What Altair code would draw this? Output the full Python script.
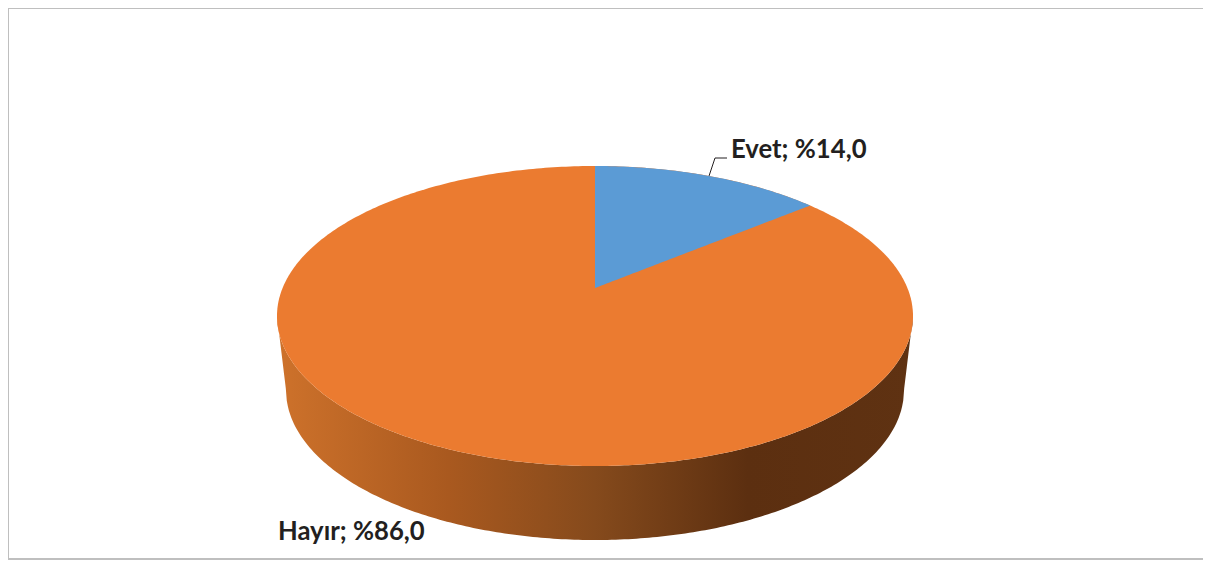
import math
import altair as alt
import pandas as pd

categories = ["Evet", "Hayır"]
shares = [14.0, 86.0]
labels = ["Evet; %14,0", "Hayır; %86,0"]

W, H = 1195, 552
CX, CY, RX, RY = 587, 308, 318, 150      # top ellipse
APEX_Y = 280
A, C, K = 312.4, 144.8, -0.1867          # perspective of the disc
CX2, CY2, RX2, RY2 = 587, 382, 309, 150  # bottom rim

xs = alt.X("x:Q", scale=alt.Scale(domain=[0, W], nice=False, zero=False), axis=None)
ys = alt.Y("y:Q", scale=alt.Scale(domain=[H, 0], nice=False, zero=False), axis=None)
y2s = alt.Y2("y2:Q")


def disc_point(theta):
    u, v = math.sin(theta), -math.cos(theta)
    d = 1 + K * v
    return CX + A * u / d, APEX_Y + C * v / d


# wall
STEPS = 240
wall = []
for i in range(STEPS + 1):
    x = CX - RX + 2 * RX * (1 - math.cos(math.pi * i / STEPS)) / 2
    top = CY + RY * math.sqrt(max(0, 1 - ((x - CX) / RX) ** 2))
    dx = abs(x - CX2)
    if dx <= RX2:
        bottom = CY2 + RY2 * math.sqrt(max(0, 1 - (dx / RX2) ** 2))
    else:
        bottom = CY + (CY2 - CY) * (RX - dx) / (RX - RX2)
    wall.append({"x": x, "y": top, "y2": bottom})

# orange top
top_disc = []
for i in range(STEPS + 1):
    t = math.pi * i / STEPS
    h = RY * math.sin(t)
    top_disc.append({"x": CX - RX * math.cos(t), "y": CY - h, "y2": CY + h})

# blue slice, derived from the share
end_x, end_y = disc_point(shares[0] / sum(shares) * 2 * math.pi)
slice_pts = []
for i in range(81):
    th = shares[0] / sum(shares) * 2 * math.pi * i / 80
    x, y = disc_point(th)
    line_y = APEX_Y + (end_y - APEX_Y) * (x - CX) / (end_x - CX)
    slice_pts.append({"x": x, "y": y, "y2": line_y})

leader = pd.DataFrame({"x": [701, 707, 719], "y": [168, 150, 150], "o": [0, 1, 2]})
text_df = pd.DataFrame({"x": [723, 270], "y": [150, 532], "label": labels})

wall_fill = alt.Gradient(
    gradient="linear", x1=0, x2=1, y1=0, y2=0,
    stops=[
        alt.GradientStop(offset=0.0, color="#CE722B"),
        alt.GradientStop(offset=0.27, color="#A9591F"),
        alt.GradientStop(offset=0.5, color="#854A1C"),
        alt.GradientStop(offset=0.74, color="#5C2F10"),
        alt.GradientStop(offset=1.0, color="#5F3212"),
    ],
)

wall_layer = alt.Chart(pd.DataFrame(wall)).mark_area(color=wall_fill, line=False).encode(x=xs, y=ys, y2=y2s)
top_layer = alt.Chart(pd.DataFrame(top_disc)).mark_area(color="#EB7B30").encode(x=xs, y=ys, y2=y2s)
slice_layer = alt.Chart(pd.DataFrame(slice_pts)).mark_area(color="#5B9BD5").encode(x=xs, y=ys, y2=y2s)
leader_layer = alt.Chart(leader).mark_line(color="#231F20", strokeWidth=1).encode(x=xs, y=ys, order="o:Q")
text_layer = alt.Chart(text_df).mark_text(
    font="Lato", fontWeight="bold", fontSize=25.7, align="left", baseline="alphabetic", color="#231F20"
).encode(x=xs, y=ys, text="label:N")

frame_color = "#BFBFBF"
frame_left = alt.Chart(pd.DataFrame({"a": [0]})).mark_rule(color=frame_color, strokeWidth=2).encode(
    x=alt.value(0), y=alt.value(0), y2=alt.value(H))
frame_top = alt.Chart(pd.DataFrame({"a": [0]})).mark_rule(color=frame_color, strokeWidth=2).encode(
    y=alt.value(0), x=alt.value(0), x2=alt.value(W))
frame_bottom = alt.Chart(pd.DataFrame({"a": [0]})).mark_rule(color=frame_color, strokeWidth=2).encode(
    y=alt.value(H - 1), x=alt.value(0), x2=alt.value(W))

chart = alt.layer(
    frame_left, frame_top, frame_bottom, wall_layer, top_layer, slice_layer, leader_layer, text_layer
).properties(
    width=W, height=H, padding=0, background="white",
    autosize=alt.AutoSizeParams(type="none"),
).configure_view(stroke=None)

chart.save("out.html", embed_options={"renderer": "svg", "actions": False})
